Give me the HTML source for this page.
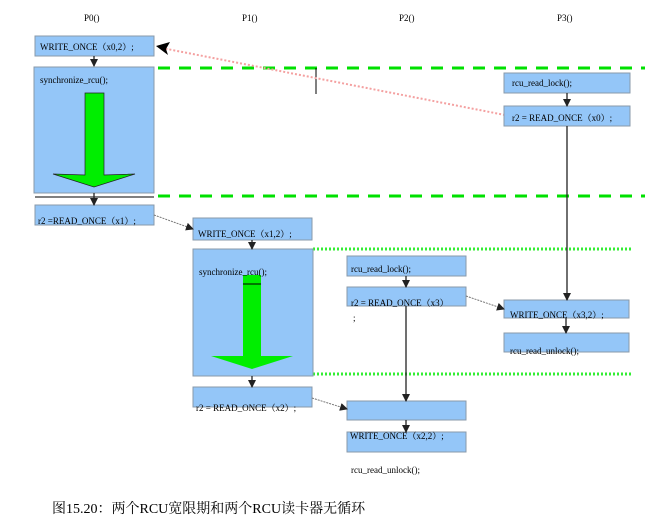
<!DOCTYPE html>
<html><head><meta charset="utf-8"><style>body{margin:0;background:#fff}svg{display:block}</style></head><body>
<svg width="645" height="524" xmlns="http://www.w3.org/2000/svg" font-family="Liberation Serif, Noto Serif CJK SC, serif" font-size="9">
<defs><marker id="a" markerWidth="8" markerHeight="8" refX="7" refY="4" orient="auto" markerUnits="userSpaceOnUse"><path d="M0,0 L8,4 L0,8 z" fill="#222"/></marker></defs>
<g fill="#000" font-size="9">
<text x="84" y="21">P0()</text><text x="242" y="21">P1()</text><text x="399" y="21">P2()</text><text x="557" y="21">P3()</text>
</g>
<g stroke="#00e000" stroke-width="3" stroke-dasharray="12,9">
<line x1="158" y1="68" x2="645" y2="68"/><line x1="158" y1="196" x2="645" y2="196"/></g>
<g stroke="#33ee33" stroke-width="3" stroke-dasharray="2,2">
<line x1="313" y1="249" x2="632" y2="249"/><line x1="313" y1="374" x2="632" y2="374"/></g>
<line x1="316" y1="68" x2="316" y2="94" stroke="#000"/>
<line x1="505" y1="115" x2="162" y2="48" stroke="#f4a0a0" stroke-width="2" stroke-dasharray="2,2"/>
<path d="M156,46 L170,42 L166,49 L168,55 z" fill="#000"/>
<g fill="#94c6f8" stroke="#8899aa">
<rect x="35" y="36" width="119" height="20"/>
<rect x="34" y="67" width="120" height="126"/>
<rect x="35" y="205" width="119" height="20"/>
<rect x="193" y="218" width="119" height="22"/>
<rect x="193" y="249" width="120" height="127"/>
<rect x="193" y="387" width="119" height="20"/>
<rect x="347" y="256" width="119" height="20"/>
<rect x="347" y="287" width="119" height="19"/>
<rect x="347" y="401" width="119" height="19"/>
<rect x="347" y="432" width="119" height="20"/>
<rect x="504" y="73" width="126" height="20"/>
<rect x="504" y="106" width="126" height="20"/>
<rect x="504" y="300" width="125" height="18"/>
<rect x="504" y="333" width="125" height="19"/>
</g>
<line x1="35" y1="197" x2="154" y2="197" stroke="#000"/>
<path d="M85,93 H104 V175 L135,174 L94,187 L53,174 L85,175 Z" fill="#00ee00" stroke="#222" stroke-width="0.7"/>
<path d="M243,275 H261 V356 L293,356 L252,369 L211,356 L243,356 Z" fill="#00ee00" stroke="none"/>
<line x1="243" y1="284" x2="261" y2="284" stroke="#000"/>
<g stroke="#222" stroke-width="1.3" marker-end="url(#a)">
<line x1="94" y1="56" x2="94" y2="66"/>
<line x1="94" y1="193" x2="94" y2="205"/>
<line x1="252" y1="240" x2="252" y2="249"/>
<line x1="252" y1="376" x2="252" y2="387"/>
<line x1="406" y1="276" x2="406" y2="287"/>
<line x1="406" y1="306" x2="406" y2="401"/>
<line x1="406" y1="420" x2="406" y2="432"/>
<line x1="567" y1="93" x2="567" y2="106"/>
<line x1="567" y1="126" x2="567" y2="300"/>
<line x1="566" y1="318" x2="566" y2="333"/>
</g>
<g stroke="#777" stroke-width="1" stroke-dasharray="2,1" marker-end="url(#a)">
<line x1="154" y1="215" x2="193" y2="229"/>
<line x1="312" y1="398" x2="347" y2="409"/>
<line x1="466" y1="296" x2="504" y2="309"/>
</g>
<g fill="#000">
<text x="40" y="50">WRITE_ONCE（x0,2）;</text>
<text x="40" y="83">synchronize_rcu();</text>
<text x="38" y="224">r2 =READ_ONCE（x1）;</text>
<text x="198" y="237">WRITE_ONCE（x1,2）;</text>
<text x="199" y="275">synchronize_rcu();</text>
<text x="196" y="411">r2 = READ_ONCE（x2）;</text>
<text x="351" y="272">rcu_read_lock();</text>
<text x="351" y="306">r2 = READ_ONCE（x3）</text>
<text x="353" y="321">;</text>
<text x="350" y="439">WRITE_ONCE（x2,2）;</text>
<text x="351" y="473">rcu_read_unlock();</text>
<text x="512" y="86">rcu_read_lock();</text>
<text x="512" y="121">r2 = READ_ONCE（x0）;</text>
<text x="510" y="318">WRITE_ONCE（x3,2）;</text>
<text x="510" y="354">rcu_read_unlock();</text>
</g>
<text x="52" y="513" font-size="14" fill="#000">图15.20：两个RCU宽限期和两个RCU读卡器无循环</text>
</svg>
</body></html>
